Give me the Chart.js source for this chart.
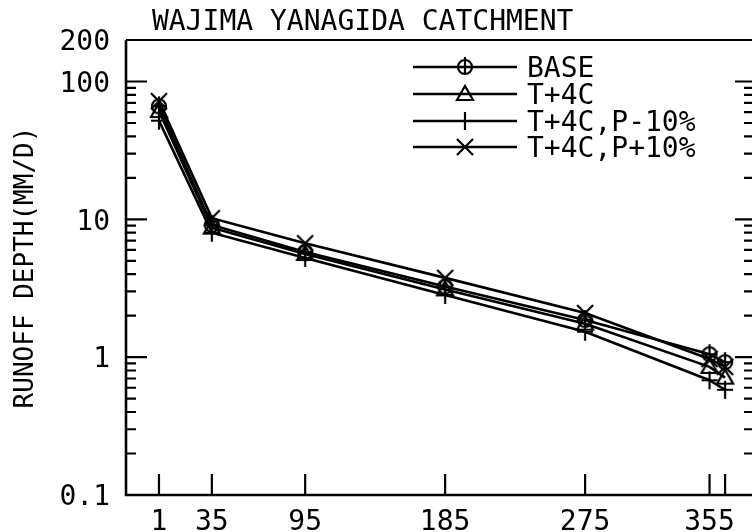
<!DOCTYPE html>
<html><head><meta charset="utf-8">
<script src="https://cdn.jsdelivr.net/npm/chart.js@4/dist/chart.umd.min.js"></script>
<style>html,body{margin:0;padding:0;background:#fff;overflow:hidden}</style>
</head><body>
<canvas id="c" width="752" height="532"></canvas>
<script>
// ---- data ----
const chartTitle = 'WAJIMA YANAGIDA CATCHMENT';
const yAxisTitle = 'RUNOFF DEPTH(MM/D)';
const days = [1, 35, 95, 185, 275, 355, 365];
const xTickValues = [1, 35, 95, 185, 275, 355, 365];
const xTickLabels = ['1', '35', '95', '185', '275', '355', ''];
const yTickValues = [0.1, 1, 10, 100, 200];
const yTickLabels = ['0.1', '1', '10', '100', '200'];
const seriesNames = ['BASE', 'T+4C', 'T+4C,P-10%', 'T+4C,P+10%'];
const base    = [66, 9.1, 5.8, 3.25, 1.86, 1.05, 0.92];
const t4c     = [61, 8.7, 5.6, 3.10, 1.75, 0.85, 0.71];
const t4cPm10 = [52, 8.0, 5.25, 2.83, 1.53, 0.68, 0.58];
const t4cPp10 = [72, 10.2, 6.7, 3.76, 2.09, 0.97, 0.85];
const seriesValues = [base, t4c, t4cPm10, t4cPp10];
const markerKinds = ['circlePlus', 'triangle', 'plus', 'cross'];

const FONT = '"DejaVu Sans Mono", "Liberation Mono", monospace';

function makeMarker(kind) {
  const s = 24, m = 12;
  const c = document.createElement('canvas');
  c.width = s; c.height = s;
  const g = c.getContext('2d');
  g.strokeStyle = '#000';
  g.lineWidth = 2.2;
  g.beginPath();
  if (kind === 'circlePlus') {
    g.arc(m, m, 7, 0, Math.PI * 2);
    g.moveTo(m, m - 10); g.lineTo(m, m + 7);
    g.moveTo(m - 7, m); g.lineTo(m + 7, m);
  } else if (kind === 'triangle') {
    g.moveTo(m, m - 8); g.lineTo(m + 8, m + 6); g.lineTo(m - 8, m + 6); g.closePath();
  } else if (kind === 'plus') {
    g.moveTo(m - 8, m); g.lineTo(m + 8, m);
    g.moveTo(m, m - 9); g.lineTo(m, m + 9);
  } else {
    g.moveTo(m - 8, m - 8); g.lineTo(m + 8, m + 8);
    g.moveTo(m + 8, m - 8); g.lineTo(m - 8, m + 8);
  }
  g.stroke();
  return c;
}
const markers = markerKinds.map(makeMarker);

const datasets = seriesNames.map((name, i) => ({
  label: name,
  data: days.map((d, j) => ({ x: d, y: seriesValues[i][j] })),
  borderColor: '#000',
  borderWidth: 2.6,
  pointStyle: markers[i],
  pointRadius: 8,
  pointBackgroundColor: 'rgba(0,0,0,0)',
  pointBorderColor: '#000',
  tension: 0,
  fill: false,
  clip: false
}));

const framePlugin = {
  id: 'frame',
  beforeDatasetsDraw(chart) {
    const { ctx, chartArea: a, scales: { x, y } } = chart;
    ctx.save();
    ctx.strokeStyle = '#000';
    ctx.lineCap = 'butt';
    ctx.lineWidth = 2.6;
    ctx.beginPath();
    ctx.moveTo(a.left, a.top); ctx.lineTo(a.left, a.bottom); ctx.lineTo(a.right, a.bottom);
    ctx.stroke();
    ctx.lineWidth = 2.2;
    ctx.beginPath();
    ctx.moveTo(a.left, a.top); ctx.lineTo(a.right, a.top);
    ctx.stroke();
    ctx.lineWidth = 2.2;
    ctx.beginPath();
    xTickValues.forEach(v => {
      const px = x.getPixelForValue(v);
      ctx.moveTo(px, a.bottom); ctx.lineTo(px, a.bottom - 21);
    });
    ctx.stroke();
    const majors = [1, 10, 100];
    const minors = [];
    [0.1, 1, 10].forEach(d => { for (let k = 2; k <= 9; k++) minors.push(+(k * d).toPrecision(3)); });
    ctx.beginPath();
    majors.forEach(v => {
      const py = y.getPixelForValue(v);
      ctx.moveTo(a.left, py); ctx.lineTo(a.left + 21, py);
      ctx.moveTo(a.right, py); ctx.lineTo(a.right - 17, py);
    });
    minors.forEach(v => {
      const py = y.getPixelForValue(v);
      ctx.moveTo(a.left, py); ctx.lineTo(a.left + 10, py);
      ctx.moveTo(a.right, py); ctx.lineTo(a.right - 8, py);
    });
    ctx.stroke();
    ctx.restore();
  },
  afterDraw(chart) {
    const { ctx } = chart;
    ctx.save();
    ctx.fillStyle = '#000';
    ctx.font = '28px ' + FONT;
    ctx.textBaseline = 'alphabetic';
    ctx.textAlign = 'left';
    ctx.fillText(chartTitle, 152, 30);
    const rows = [67, 94, 121, 147];
    chart.data.datasets.forEach((ds, i) => {
      const ry = rows[i];
      ctx.strokeStyle = '#000';
      ctx.lineWidth = ds.borderWidth;
      ctx.beginPath(); ctx.moveTo(413, ry); ctx.lineTo(517, ry); ctx.stroke();
      const mk = ds.pointStyle;
      ctx.drawImage(mk, 465 - mk.width / 2, ry - mk.height / 2);
      ctx.fillText(ds.label, 527, ry + 10);
    });
    ctx.restore();
  }
};

new Chart(document.getElementById('c'), {
  type: 'line',
  data: { datasets },
  plugins: [framePlugin],
  options: {
    responsive: false,
    animation: false,
    devicePixelRatio: 1,
    layout: { autoPadding: false, padding: { top: 40, left: 0, right: 0, bottom: 0 } },
    plugins: { legend: { display: false }, title: { display: false }, tooltip: { enabled: false } },
    scales: {
      x: {
        type: 'linear',
        min: -20.2,
        max: 382.3,
        grid: { display: false, drawTicks: false },
        border: { display: false },
        afterBuildTicks: s => { s.ticks = xTickValues.map(v => ({ value: v })); },
        afterFit: s => { s.height = 37; s.paddingLeft = 0; s.paddingRight = 0; },
        ticks: {
          autoSkip: false, maxRotation: 0, padding: 11,
          color: '#000',
          font: { family: FONT, size: 28 },
          callback: (v) => { const i = xTickValues.indexOf(v); return i >= 0 ? xTickLabels[i] : ''; }
        }
      },
      y: {
        type: 'logarithmic',
        min: 0.1,
        max: 200,
        grid: { display: false, drawTicks: false },
        border: { display: false },
        afterBuildTicks: s => { s.ticks = yTickValues.map(v => ({ value: v })); },
        afterFit: s => { s.width = 126; s.paddingTop = 0; s.paddingBottom = 0; },
        ticks: {
          padding: 16,
          labelOffset: 3,
          color: '#000',
          font: { family: FONT, size: 28 },
          callback: (v) => { const i = yTickValues.indexOf(v); return i >= 0 ? yTickLabels[i] : ''; }
        },
        title: {
          display: true, text: yAxisTitle, color: '#000',
          font: { family: FONT, size: 26 }, padding: { top: 11, bottom: 0 }
        }
      }
    }
  }
});
</script>
</body></html>
